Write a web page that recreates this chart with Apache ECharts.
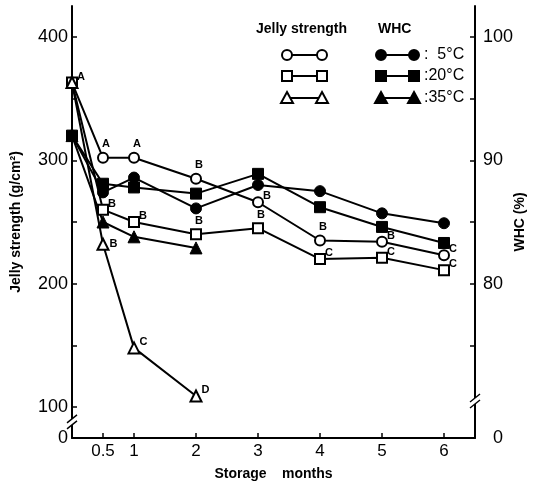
<!DOCTYPE html>
<html>
<head>
<meta charset="utf-8">
<script src="https://cdn.jsdelivr.net/npm/echarts@6/dist/echarts.min.js"></script>
<style>
  html, body { margin: 0; padding: 0; background: #fff; }
  #main { width: 533px; height: 487px; }
</style>
</head>
<body>
<div id="main"></div>
<script>
var chartDom = document.getElementById('main');
var myChart = echarts.init(chartDom);
var option;

// storage months
var months = [0, 0.5, 1, 2, 3, 4, 5, 6];
var months35 = [0, 0.5, 1, 2];

// jelly strength (g/cm2), open symbols
var jelly5 = [363, 302, 302, 285, 266, 235, 234, 223];
var jelly20 = [363, 260, 250, 240, 245, 220, 221, 211];
var jelly35 = [363, 232, 148, 109];

// WHC (%), filled symbols
var whc5 = [92.0, 87.4, 88.6, 86.1, 88.0, 87.5, 85.7, 84.9];
var whc20 = [92.0, 88.1, 87.8, 87.3, 88.9, 86.2, 84.6, 83.3];
var whc35 = [92.0, 85.0, 83.8, 82.9];

// significance letters on the jelly strength points
var grade5 = ['A', 'A', 'A', 'B', 'B', 'B', 'B', 'C'];
var grade20 = ['', 'B', 'B', 'B', 'B', 'C', 'C', 'C'];
var grade35 = ['', 'B', 'C', 'D'];

// axis ticks / labels
var xTicks = [0.5, 1, 2, 3, 4, 5, 6];
var leftLabels = [75, 100, 200, 300, 400];
var leftTicks = [100, 150, 200, 250, 300, 350, 400];
var rightLabels = [67.5, 80, 90, 100];
var rightTicks = [75, 80, 85, 90, 95, 100];

var font = 'Liberation Sans';

// where each letter sits (style only)
var placeRight = { position: 'right', offset: [-3, -6] };
var placeTop = { position: 'top', offset: [3, 0] };
var place5 = [placeRight, placeTop, placeTop, placeTop, placeRight, placeTop, placeRight, placeRight];
var place20 = [placeRight, placeRight, placeRight, placeTop, placeTop, placeRight, placeRight, placeRight];
var place35 = [placeRight, { position: 'right', offset: [-2, 0] }, placeRight, placeRight];

function pts(xs, ys, grades, places) {
    return xs.map(function (x, i) {
        var item = { value: [x, ys[i]] };
        if (grades && grades[i]) {
            item.label = {
                show: true,
                formatter: grades[i],
                position: places[i].position,
                offset: places[i].offset,
                distance: 2,
                fontSize: 11,
                fontWeight: 'bold',
                fontFamily: font,
                color: '#000'
            };
        }
        return item;
    });
}

function openSeries(name, symbol, xs, ys, grades, places) {
    return {
        name: name,
        type: 'line',
        yAxisIndex: 0,
        symbol: symbol,
        symbolSize: symbol === 'triangle' ? 11 : 10,
        showAllSymbol: true,
        z: 3,
        lineStyle: { color: '#000', width: 2 },
        itemStyle: { color: '#fff', borderColor: '#000', borderWidth: 2 },
        data: pts(xs, ys, grades, places)
    };
}

function filledSeries(name, symbol, xs, ys) {
    return {
        name: name,
        type: 'line',
        yAxisIndex: 1,
        symbol: symbol,
        symbolSize: symbol === 'triangle' ? 12 : 11,
        showAllSymbol: true,
        z: 2,
        lineStyle: { color: '#000', width: 2 },
        itemStyle: { color: '#000', borderColor: '#000', borderWidth: 1 },
        data: pts(xs, ys)
    };
}

option = {
    animation: false,
    backgroundColor: '#fff',
    grid: { left: 72, right: 58, top: 6, bottom: 49, outerBoundsMode: 'none', containLabel: false },
    xAxis: {
        type: 'value',
        min: 0,
        max: 6.5,
        name: 'Storage    months',
        nameLocation: 'middle',
        nameGap: 29,
        nameMoveOverlap: false,
        nameTextStyle: { fontFamily: font, fontWeight: 'bold', fontSize: 14, color: '#000' },
        axisLine: { lineStyle: { color: '#000', width: 2 } },
        axisTick: { inside: true, length: 5, lineStyle: { color: '#000', width: 1.5 }, customValues: xTicks },
        axisLabel: {
            customValues: xTicks,
            fontFamily: font, fontSize: 17, color: '#000', margin: 5,
            formatter: function (v) { return String(v); }
        },
        splitLine: { show: false }
    },
    yAxis: [
        {
            type: 'value',
            min: 75,
            max: 425,
            position: 'left',
            name: 'Jelly strength (g/cm\u00b2)',
            nameLocation: 'middle',
            nameRotate: 90,
            nameGap: 49,
            nameMoveOverlap: false,
            nameTextStyle: { fontFamily: font, fontWeight: 'bold', fontSize: 14, color: '#000' },
            axisLine: { show: true, lineStyle: { color: '#000', width: 2 } },
            axisTick: { show: true, inside: true, length: 5, lineStyle: { color: '#000', width: 1.5 }, customValues: leftTicks },
            axisLabel: {
                customValues: leftLabels,
                fontFamily: font, fontSize: 18, color: '#000', margin: 4,
                formatter: function (v) { return v === 75 ? '0' : String(v); }
            },
            splitLine: { show: false }
        },
        {
            type: 'value',
            min: 67.5,
            max: 102.5,
            position: 'right',
            name: 'WHC (%)',
            nameLocation: 'middle',
            nameRotate: 90,
            nameGap: 38,
            nameMoveOverlap: false,
            nameTextStyle: { fontFamily: font, fontWeight: 'bold', fontSize: 14, color: '#000' },
            axisLine: { show: true, lineStyle: { color: '#000', width: 2 } },
            axisTick: { show: true, inside: true, length: 5, lineStyle: { color: '#000', width: 1.5 }, customValues: rightTicks },
            axisLabel: {
                customValues: rightLabels,
                fontFamily: font, fontSize: 18, color: '#000', margin: 8,
                formatter: function (v) { return v === 67.5 ? '  0' : String(v); }
            },
            splitLine: { show: false }
        }
    ],
    series: [
        filledSeries('WHC 5\u00b0C', 'circle', months, whc5),
        filledSeries('WHC 20\u00b0C', 'rect', months, whc20),
        filledSeries('WHC 35\u00b0C', 'triangle', months35, whc35),
        openSeries('Jelly strength 5\u00b0C', 'circle', months, jelly5, grade5, place5),
        openSeries('Jelly strength 20\u00b0C', 'rect', months, jelly20, grade20, place20),
        openSeries('Jelly strength 35\u00b0C', 'triangle', months35, jelly35, grade35, place35)
    ]
};

myChart.setOption(option);

// legend and axis breaks drawn as graphics
function legendRow(y, shape, filled, x1, x2) {
    var els = [{
        type: 'line', shape: { x1: x1, y1: y, x2: x2, y2: y },
        style: { stroke: '#000', lineWidth: 2 }
    }];
    [x1, x2].forEach(function (x) {
        var st = { fill: filled ? '#000' : '#fff', stroke: '#000', lineWidth: 2 };
        if (shape === 'circle') {
            els.push({ type: 'circle', shape: { cx: x, cy: y, r: 5 }, style: st, z: 10 });
        } else if (shape === 'rect') {
            els.push({ type: 'rect', shape: { x: x - 5, y: y - 5, width: 10, height: 10 }, style: st, z: 10 });
        } else {
            els.push({ type: 'polygon', shape: { points: [[x, y - 6], [x + 6, y + 5], [x - 6, y + 5]] }, style: st, z: 10 });
        }
    });
    return els;
}

function breakMark(x, y) {
    return [
        { type: 'rect', shape: { x: x - 3, y: y - 3, width: 6, height: 6 }, style: { fill: '#fff' }, z: 20 },
        { type: 'line', shape: { x1: x - 5, y1: y + 1, x2: x + 5, y2: y - 7 }, style: { stroke: '#000', lineWidth: 1.5 }, z: 21 },
        { type: 'line', shape: { x1: x - 5, y1: y + 7, x2: x + 5, y2: y - 1 }, style: { stroke: '#000', lineWidth: 1.5 }, z: 21 }
    ];
}

var legendY = [55, 76, 98];
var shapes = ['circle', 'rect', 'triangle'];
var temps = [':  5\u00b0C', ':20\u00b0C', ':35\u00b0C'];
var g = [
    { type: 'text', left: 256, top: 22, style: { text: 'Jelly strength', font: 'bold 14px ' + font, fill: '#000' } },
    { type: 'text', left: 378, top: 22, style: { text: 'WHC', font: 'bold 14px ' + font, fill: '#000' } }
];
legendY.forEach(function (y, i) {
    g = g.concat(legendRow(y, shapes[i], false, 287, 322));
    g = g.concat(legendRow(y, shapes[i], true, 381, 414));
    g.push({ type: 'text', x: 424, y: y, style: { text: temps[i], font: '16px ' + font, fill: '#000', verticalAlign: 'middle' } });
});

var lx = myChart.convertToPixel({ xAxisIndex: 0 }, 0);
var rx = myChart.convertToPixel({ xAxisIndex: 0 }, 6.5);
var ly = myChart.convertToPixel({ yAxisIndex: 0 }, 88);
var ry = myChart.convertToPixel({ yAxisIndex: 1 }, 70.5);
g = g.concat(breakMark(lx, ly), breakMark(rx, ry));

myChart.setOption({ graphic: g });
</script>
</body>
</html>
